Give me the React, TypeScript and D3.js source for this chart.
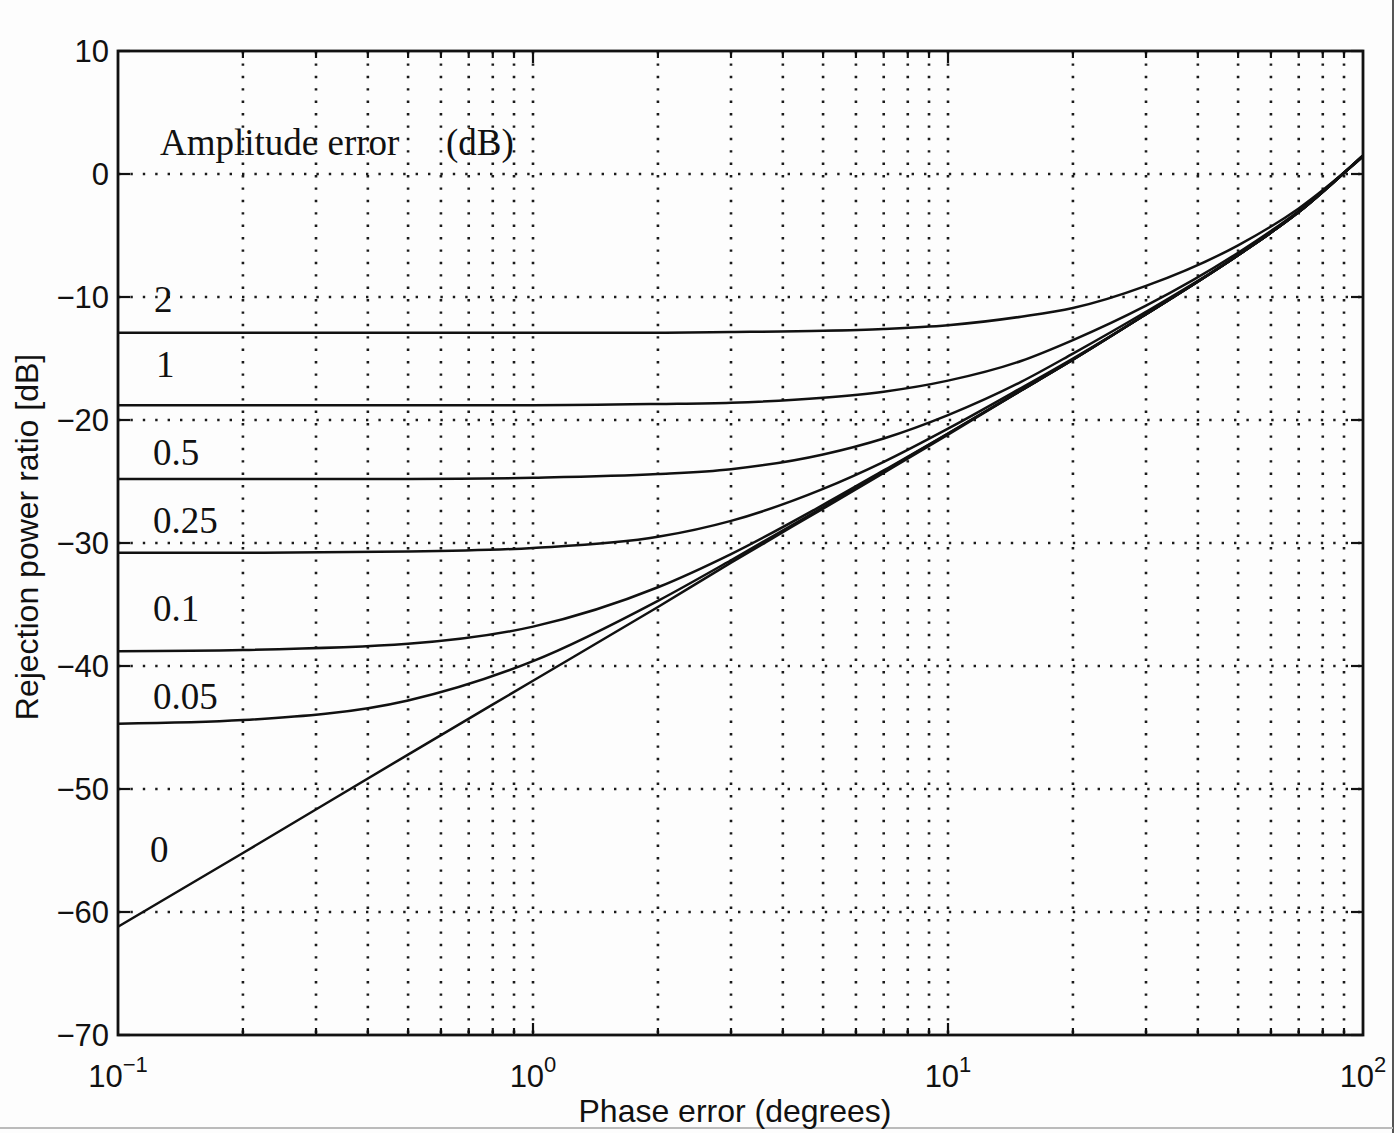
import React from 'react';
import * as d3 from 'd3';

// phase error sample points (degrees)
const phaseDeg = [0.1, 0.2, 0.5, 1, 2, 3, 5, 7, 10, 15, 20, 30, 50, 70, 100];

// rejection power ratio (dB) for each amplitude error curve
const amp2 = [-12.9, -12.9, -12.9, -12.9, -12.9, -12.85, -12.75, -12.6, -12.3, -11.6, -10.9, -9.1, -5.8, -2.8, 1.4];
const amp1 = [-18.8, -18.8, -18.8, -18.8, -18.7, -18.6, -18.2, -17.7, -16.8, -15.2, -13.5, -10.7, -6.4, -3.0, 1.5];
const amp05 = [-24.8, -24.8, -24.8, -24.7, -24.4, -24.0, -22.8, -21.5, -19.6, -16.9, -14.6, -11.2, -6.6, -3.1, 1.5];
const amp025 = [-30.8, -30.8, -30.7, -30.4, -29.5, -28.2, -25.6, -23.4, -20.7, -17.4, -15.0, -11.4, -6.6, -3.1, 1.5];
const amp01 = [-38.8, -38.7, -38.2, -36.8, -33.6, -30.9, -26.9, -24.1, -21.1, -17.6, -15.1, -11.4, -6.6, -3.1, 1.5];
const amp005 = [-44.7, -44.4, -42.8, -39.6, -34.7, -31.4, -27.1, -24.2, -21.1, -17.6, -15.1, -11.4, -6.6, -3.1, 1.5];
const amp0 = [-61.2, -55.2, -47.2, -41.2, -35.2, -31.6, -27.2, -24.3, -21.2, -17.6, -15.1, -11.4, -6.6, -3.1, 1.5];

const curveNames = ['2', '1', '0.5', '0.25', '0.1', '0.05', '0'];
const curveValues = [amp2, amp1, amp05, amp025, amp01, amp005, amp0];

const yTicks = [10, 0, -10, -20, -30, -40, -50, -60, -70];
const xDecades = [-1, 0, 1, 2];

// where the curve labels sit (pixels)
const labelPos: [number, number][] = [
  [154, 312], [156, 377], [153, 465], [153, 533], [153, 621], [153, 709], [150, 862],
];

const W = 1400;
const H = 1133;
const left = 118;
const right = 1363;
const top = 51;
const bottom = 1035;

export default function App() {
  const x = d3.scaleLog().domain([0.1, 100]).range([left, right]);
  const y = d3.scaleLinear().domain([-70, 10]).range([bottom, top]);

  const line = d3
    .line<number>()
    .x((_, i) => x(phaseDeg[i]))
    .y((d) => y(d))
    .curve(d3.curveMonotoneX);

  // every log tick between the borders
  const logTicks: number[] = [];
  for (let e = -1; e < 2; e++) {
    for (let m = 1; m < 10; m++) {
      const v = m * Math.pow(10, e);
      if (v > 0.1 && v < 100) logTicks.push(v);
    }
  }

  const sans = 'Liberation Sans, Arial, sans-serif';
  const serif = 'Liberation Serif, Times New Roman, serif';
  const dots = { stroke: '#1a1a1a', strokeWidth: 2.6, strokeDasharray: '2.4 10', fill: 'none' } as const;

  return (
    <svg width={W} height={H} style={{ position: 'absolute', left: 0, top: 0, background: '#fff' }}>
      <rect x={0} y={0} width={W} height={H} fill="#fdfdfd" />
      {/* scan edges */}
      <line x1={1393} x2={1393} y1={0} y2={H} stroke="#555" strokeWidth={2} />
      <line x1={0} x2={1393} y1={1128} y2={1128} stroke="#bbb" strokeWidth={2} />

      {/* grid */}
      {yTicks.filter((t) => t > -70 && t < 10).map((t) => (
        <line key={'gy' + t} x1={left} x2={right} y1={y(t)} y2={y(t)} {...dots} />
      ))}
      {logTicks.map((v) => (
        <line key={'gx' + v} x1={x(v)} x2={x(v)} y1={top} y2={bottom} {...dots} />
      ))}

      {/* ticks */}
      {yTicks.map((t) => (
        <g key={'ty' + t}>
          <line x1={left} x2={left + 12} y1={y(t)} y2={y(t)} stroke="#111" strokeWidth={2.2} />
          <line x1={right - 12} x2={right} y1={y(t)} y2={y(t)} stroke="#111" strokeWidth={2.2} />
        </g>
      ))}
      {logTicks.map((v) => {
        const major = Math.abs(Math.log10(v) - Math.round(Math.log10(v))) < 1e-9;
        const len = major ? 12 : 7;
        return (
          <g key={'tx' + v}>
            <line x1={x(v)} x2={x(v)} y1={bottom} y2={bottom - len} stroke="#111" strokeWidth={2.2} />
            <line x1={x(v)} x2={x(v)} y1={top} y2={top + len} stroke="#111" strokeWidth={2.2} />
          </g>
        );
      })}

      {/* curves */}
      {curveValues.map((vals, i) => (
        <path key={'c' + i} d={line(vals) || ''} fill="none" stroke="#111" strokeWidth={2.5} />
      ))}

      {/* frame */}
      <rect x={left} y={top} width={right - left} height={bottom - top} fill="none" stroke="#111" strokeWidth={2.8} />

      {/* y tick labels */}
      {yTicks.map((t) => (
        <text key={'ly' + t} x={left - 9} y={y(t)} dy="0.36em" textAnchor="end" fontFamily={sans} fontSize={31} fill="#111">
          {t < 0 ? '\u2212' + Math.abs(t) : String(t)}
        </text>
      ))}

      {/* x tick labels */}
      {xDecades.map((e) => (
        <text key={'lx' + e} x={x(Math.pow(10, e))} y={1087} textAnchor="middle" fontFamily={sans} fontSize={31} fill="#111">
          10
          <tspan dy={-15} fontSize={22}>{e < 0 ? '\u2212' + Math.abs(e) : String(e)}</tspan>
        </text>
      ))}

      {/* axis titles */}
      <text x={735} y={1122} textAnchor="middle" fontFamily={sans} fontSize={32} fill="#111">
        Phase error (degrees)
      </text>
      <text transform="translate(38,537) rotate(-90)" textAnchor="middle" fontFamily={sans} fontSize={32} fill="#111">
        Rejection power ratio [dB]
      </text>

      {/* annotations */}
      <text x={160} y={155} fontFamily={serif} fontSize={37} fill="#111">Amplitude error</text>
      <text x={446} y={155} fontFamily={serif} fontSize={37} fill="#111">(dB)</text>
      {curveNames.map((n, i) => (
        <text key={'n' + n} x={labelPos[i][0]} y={labelPos[i][1]} fontFamily={serif} fontSize={37} fill="#111">
          {n}
        </text>
      ))}
    </svg>
  );
}
